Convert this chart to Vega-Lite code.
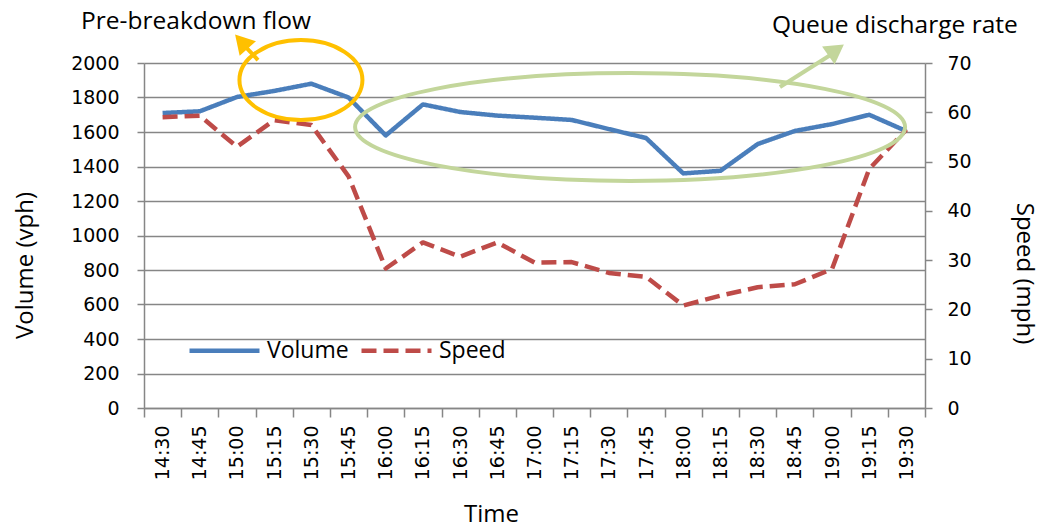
{
  "$schema": "https://vega.github.io/schema/vega-lite/v6.json",
  "width": 781,
  "height": 345,
  "autosize": {"type": "none"},
  "padding": {"left": 144, "top": 63, "right": 117, "bottom": 119},
  "background": "white",
  "config": {
    "view": {"stroke": null},
    "font": "Open Sans",
    "legend": {
      "orient": "none",
      "legendX": 43,
      "legendY": 250,
      "direction": "horizontal",
      "title": null,
      "padding": 0,
      "columnPadding": 3,
      "labelOffset": 5,
      "symbolType": "stroke",
      "symbolSize": 4900,
      "symbolStrokeWidth": 4.5,
      "labelFont": "Open Sans",
      "labelFontSize": 23,
      "labelColor": "#000000",
      "labelLimit": 200
    }
  },
  "datasets": {
    "traffic": [
      {"time": "14:30", "Volume": 1710, "Speed": 59.0},
      {"time": "14:45", "Volume": 1720, "Speed": 59.3},
      {"time": "15:00", "Volume": 1803, "Speed": 53.0},
      {"time": "15:15", "Volume": 1838, "Speed": 58.4},
      {"time": "15:30", "Volume": 1880, "Speed": 57.4},
      {"time": "15:45", "Volume": 1800, "Speed": 47.0},
      {"time": "16:00", "Volume": 1580, "Speed": 28.3},
      {"time": "16:15", "Volume": 1760, "Speed": 33.6},
      {"time": "16:30", "Volume": 1716, "Speed": 30.7},
      {"time": "16:45", "Volume": 1695, "Speed": 33.6},
      {"time": "17:00", "Volume": 1683, "Speed": 29.5},
      {"time": "17:15", "Volume": 1670, "Speed": 29.6},
      {"time": "17:30", "Volume": 1617, "Speed": 27.4},
      {"time": "17:45", "Volume": 1565, "Speed": 26.6},
      {"time": "18:00", "Volume": 1360, "Speed": 20.8},
      {"time": "18:15", "Volume": 1375, "Speed": 22.8},
      {"time": "18:30", "Volume": 1530, "Speed": 24.5},
      {"time": "18:45", "Volume": 1606, "Speed": 25.1},
      {"time": "19:00", "Volume": 1646, "Speed": 28.2},
      {"time": "19:15", "Volume": 1700, "Speed": 48.5},
      {"time": "19:30", "Volume": 1605, "Speed": 56.5}
    ]
  },
  "layer": [
    {
      "data": {"name": "traffic"},
      "transform": [{"fold": ["Volume"], "as": ["series", "value"]}],
      "mark": {"type": "line", "strokeWidth": 4.5, "strokeJoin": "round"},
      "encoding": {
        "x": {
          "field": "time", "type": "ordinal", "sort": null,
          "scale": {"type": "band", "paddingInner": 0, "paddingOuter": 0},
          "axis": {
            "title": "Time", "tickBand": "extent", "labelAngle": -90, "grid": false,
            "labelFont": "DejaVu Sans", "labelFontSize": 19, "labelColor": "#000000",
            "labelPadding": 8, "tickSize": 9, "tickColor": "#868686", "tickWidth": 1.5,
            "domainColor": "#868686", "domainWidth": 1.5,
            "titleFont": "Open Sans", "titleFontSize": 24, "titleFontWeight": "normal", "titleColor": "#000000",
            "titleX": 347, "titleY": 106, "titleBaseline": "middle", "titleAlign": "center"
          }
        },
        "y": {
          "field": "value", "type": "quantitative",
          "scale": {"domain": [0, 2000], "nice": false},
          "axis": {
            "title": "Volume (vph)", "orient": "left", "format": "d",
            "values": [0, 200, 400, 600, 800, 1000, 1200, 1400, 1600, 1800, 2000],
            "grid": true, "gridColor": "#868686", "gridWidth": 1.5,
            "labelFont": "DejaVu Sans", "labelFontSize": 19, "labelColor": "#000000",
            "labelPadding": 18, "tickSize": 7, "tickColor": "#868686", "tickWidth": 1.5,
            "domainColor": "#868686", "domainWidth": 1.5,
            "titleFont": "Open Sans", "titleFontSize": 24, "titleFontWeight": "normal", "titleColor": "#000000",
            "titleAngle": -90, "titleX": -119, "titleY": 202, "titleBaseline": "middle", "titleAlign": "center"
          }
        },
        "color": {
          "field": "series", "type": "nominal",
          "scale": {"domain": ["Volume", "Speed"], "range": ["#4A7EBB", "#BE4B48"]},
          "legend": {"title": null}
        },
        "strokeDash": {
          "field": "series", "type": "nominal",
          "scale": {"domain": ["Volume", "Speed"], "range": [[1, 0], [15, 7]]},
          "legend": {"title": null}
        }
      }
    },
    {
      "data": {"name": "traffic"},
      "transform": [{"fold": ["Speed"], "as": ["series", "value"]}],
      "mark": {"type": "line", "strokeWidth": 4.5, "strokeJoin": "round"},
      "encoding": {
        "x": {
          "field": "time", "type": "ordinal", "sort": null,
          "scale": {"type": "band", "paddingInner": 0, "paddingOuter": 0},
          "axis": null
        },
        "y": {
          "field": "value", "type": "quantitative",
          "scale": {"domain": [0, 70], "nice": false},
          "axis": {
            "title": "Speed (mph)", "orient": "right",
            "values": [0, 10, 20, 30, 40, 50, 60, 70],
            "grid": false,
            "labelFont": "DejaVu Sans", "labelFontSize": 19, "labelColor": "#000000",
            "labelPadding": 15, "tickSize": 7, "tickColor": "#868686", "tickWidth": 1.5,
            "domainColor": "#868686", "domainWidth": 1.5,
            "titleFont": "Open Sans", "titleFontSize": 24, "titleFontWeight": "normal", "titleColor": "#000000",
            "titleAngle": 90, "titleX": 98, "titleY": 210, "titleBaseline": "middle", "titleAlign": "center"
          }
        },
        "color": {
          "field": "series", "type": "nominal",
          "scale": {"domain": ["Volume", "Speed"], "range": ["#4A7EBB", "#BE4B48"]},
          "legend": {"title": null}
        },
        "strokeDash": {
          "field": "series", "type": "nominal",
          "scale": {"domain": ["Volume", "Speed"], "range": [[1, 0], [15, 7]]},
          "legend": {"title": null}
        }
      }
    },
    {
      "data": {"values": [{"ax": 4.22, "ay": 1901}]},
      "mark": {
        "type": "point",
        "shape": "M 1 0 C 1 0.359 0.5523 0.65 0 0.65 C -0.5523 0.65 -1 0.359 -1 0 C -1 -0.359 -0.5523 -0.65 0 -0.65 C 0.5523 -0.65 1 -0.359 1 0 Z",
        "size": 15129, "filled": false, "color": "#FFC000", "stroke": "#FFC000", "strokeWidth": 4, "opacity": 1
      },
      "encoding": {
        "x": {"field": "ax", "type": "quantitative", "scale": {"domain": [0, 21], "nice": false, "zero": false}, "axis": null},
        "y": {"field": "ay", "type": "quantitative", "scale": {"domain": [0, 2000], "nice": false}, "axis": null}
      }
    },
    {
      "data": {"values": [{"ax": 13.07, "ay": 1629}]},
      "mark": {
        "type": "point",
        "shape": "M 1 0 C 1 0.1085 0.5523 0.196 0 0.196 C -0.5523 0.196 -1 0.1085 -1 0 C -1 -0.1085 -0.5523 -0.196 0 -0.196 C 0.5523 -0.196 1 -0.1085 1 0 Z",
        "size": 302500, "filled": false, "color": "#C3D69B", "stroke": "#C3D69B", "strokeWidth": 4, "opacity": 1
      },
      "encoding": {
        "x": {"field": "ax", "type": "quantitative", "scale": {"domain": [0, 21], "nice": false, "zero": false}, "axis": null},
        "y": {"field": "ay", "type": "quantitative", "scale": {"domain": [0, 2000], "nice": false}, "axis": null}
      }
    },
    {
      "data": {"values": [{"ax": 3.065, "ay": 2017}, {"ax": 2.662, "ay": 2110}]},
      "mark": {"type": "line", "color": "#FFC000", "strokeWidth": 4},
      "encoding": {
        "x": {"field": "ax", "type": "quantitative", "scale": {"domain": [0, 21], "nice": false, "zero": false}, "axis": null},
        "y": {"field": "ay", "type": "quantitative", "scale": {"domain": [0, 2000], "nice": false}, "axis": null}
      }
    },
    {
      "data": {"values": [{"ax": 2.62, "ay": 2125}]},
      "mark": {"type": "point", "shape": "triangle-up", "filled": true, "color": "#FFC000", "size": 480, "angle": 318, "opacity": 1},
      "encoding": {
        "x": {"field": "ax", "type": "quantitative", "scale": {"domain": [0, 21], "nice": false, "zero": false}, "axis": null},
        "y": {"field": "ay", "type": "quantitative", "scale": {"domain": [0, 2000], "nice": false}, "axis": null}
      }
    },
    {
      "data": {"values": [{"ax": 17.10, "ay": 1861}, {"ax": 18.50, "ay": 2052}]},
      "mark": {"type": "line", "color": "#C3D69B", "strokeWidth": 4},
      "encoding": {
        "x": {"field": "ax", "type": "quantitative", "scale": {"domain": [0, 21], "nice": false, "zero": false}, "axis": null},
        "y": {"field": "ay", "type": "quantitative", "scale": {"domain": [0, 2000], "nice": false}, "axis": null}
      }
    },
    {
      "data": {"values": [{"ax": 18.61, "ay": 2075}]},
      "mark": {"type": "point", "shape": "triangle-up", "filled": true, "color": "#C3D69B", "size": 480, "angle": 55, "opacity": 1},
      "encoding": {
        "x": {"field": "ax", "type": "quantitative", "scale": {"domain": [0, 21], "nice": false, "zero": false}, "axis": null},
        "y": {"field": "ay", "type": "quantitative", "scale": {"domain": [0, 2000], "nice": false}, "axis": null}
      }
    },
    {
      "data": {"values": [
        {"ax": 1.40, "ay": 2238, "label": "Pre-breakdown flow"},
        {"ax": 20.19, "ay": 2214, "label": "Queue discharge rate"}
      ]},
      "mark": {"type": "text", "font": "Open Sans", "fontSize": 24.5, "color": "#000000", "align": "center", "baseline": "middle"},
      "encoding": {
        "x": {"field": "ax", "type": "quantitative", "scale": {"domain": [0, 21], "nice": false, "zero": false}, "axis": null},
        "y": {"field": "ay", "type": "quantitative", "scale": {"domain": [0, 2000], "nice": false}, "axis": null},
        "text": {"field": "label", "type": "nominal"}
      }
    }
  ],
  "resolve": {
    "scale": {"x": "independent", "y": "independent"},
    "axis": {"x": "independent", "y": "independent"}
  }
}
